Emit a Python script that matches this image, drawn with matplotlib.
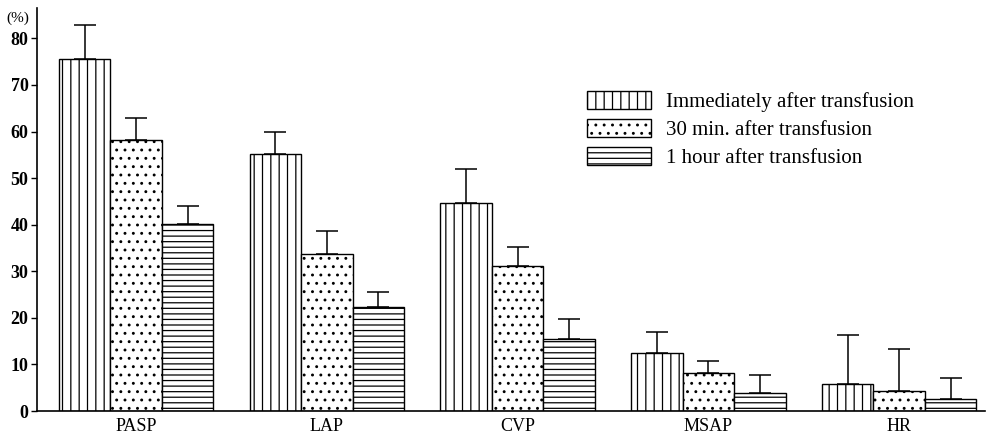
import matplotlib
matplotlib.use("Agg")
import matplotlib.pyplot as plt
import numpy as np

categories = ["PASP", "LAP", "CVP", "MSAP", "HR"]
series_names = ["Immediately after transfusion", "30 min. after transfusion", "1 hour after transfusion"]
immediate = [75.5, 55.1, 44.6, 12.4, 5.8]
immediate_top = [82.8, 59.9, 51.9, 17.0, 16.3]
min30 = [58.2, 33.7, 31.1, 8.1, 4.3]
min30_top = [62.9, 38.6, 35.2, 10.7, 13.3]
hour1 = [40.1, 22.3, 15.5, 3.9, 2.6]
hour1_top = [44.0, 25.5, 19.7, 7.7, 7.1]
yticks = [0, 10, 20, 30, 40, 50, 60, 70, 80]

plt.rcParams['font.family'] = ['Liberation Serif', 'DejaVu Serif']
plt.rcParams['hatch.linewidth'] = 0.9
plt.rcParams['hatch.color'] = 'black'

fig = plt.figure(figsize=(9.96, 4.38), dpi=100)
ax = fig.add_axes([0.037, 0.0616, 0.952, 0.92])

x = np.arange(len(categories))
w = 0.27
hatches = ['||', '..', '---']
vals = [immediate, min30, hour1]
tops = [immediate_top, min30_top, hour1_top]
for i, (v, t, h, name) in enumerate(zip(vals, tops, hatches, series_names)):
    pos = x + (i - 1) * w
    v = np.array(v); t = np.array(t)
    ax.bar(pos, v, width=w, facecolor='white', edgecolor='black', linewidth=1.0,
           hatch=h, label=name, zorder=2)
    ax.errorbar(pos, v, yerr=[np.zeros_like(v), t - v], fmt='none', ecolor='black',
                elinewidth=1.1, capsize=8, capthick=1.1, zorder=3)

ax.set_xlim(-0.52, 4.45)
ax.set_ylim(0, 86.5)
ax.set_yticks(yticks)
ax.set_yticklabels([str(t) for t in yticks], fontsize=13, fontweight='bold')
ax.set_xticks(x)
ax.set_xticklabels(categories, fontsize=13)
ax.tick_params(axis='x', length=0, pad=5)
ax.tick_params(axis='y', length=4, width=1, direction='out', pad=2)
for s in ['top', 'right']:
    ax.spines[s].set_visible(False)
ax.spines['left'].set_linewidth(1.2)
ax.spines['bottom'].set_linewidth(1.2)

ax.text(-0.02, 84.3, "(%)", transform=ax.get_yaxis_transform(), ha='center', va='center', fontsize=11)

leg = ax.legend(loc='upper left', bbox_to_anchor=(0.56, 0.84), frameon=False,
                fontsize=15, handlelength=3.1, handleheight=0.95, labelspacing=0.33,
                handletextpad=0.7)

fig.savefig("out.png", dpi=100)
